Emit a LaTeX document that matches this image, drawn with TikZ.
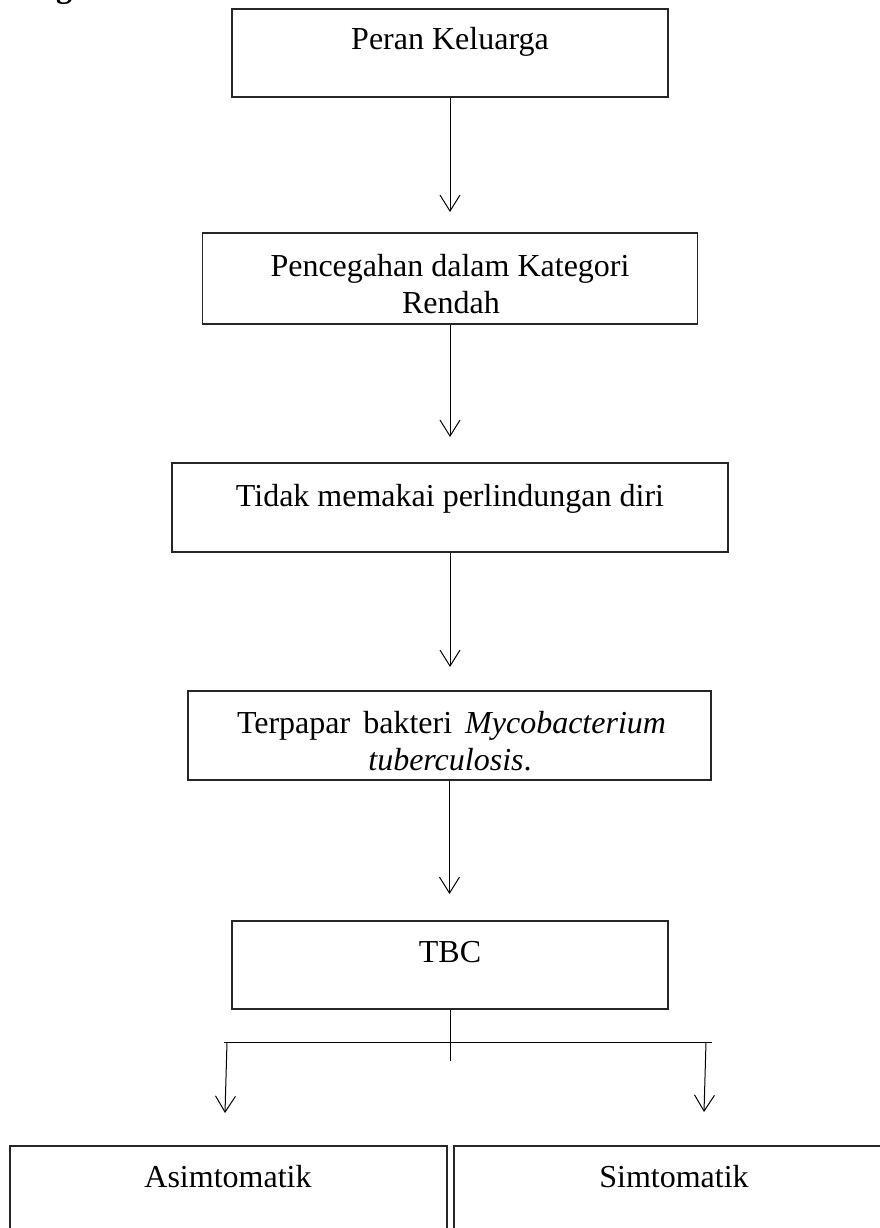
\documentclass[tikz,border=0pt]{standalone}
\usepackage{fontspec}
\setmainfont{Liberation Serif}
\usetikzlibrary{arrows.meta}
\begin{document}
\begin{tikzpicture}[x=1pt,y=-1pt,
  box/.style={draw=black!85, line width=1.4pt, rectangle, inner sep=0pt},
  txt/.style={font=\fontsize{32}{37}\selectfont, inner sep=0pt, anchor=base},
  link/.style={line width=1pt},
  arr/.style={link, -{Straight Barb[length=16pt,width=20pt,line width=1pt]}}]
\useasboundingbox (0,0) rectangle (880,1228);

% cut-off heading fragment
\node[txt, font=\bfseries\fontsize{32}{37}\selectfont] (head) at (64,-2) {g};

% boxes
\node[box, minimum width=436pt, minimum height=88pt] (b1) at (450,53) {};
\node[txt] (t1) at (450,50) {Peran Keluarga};

\node[box, minimum width=495pt, minimum height=91pt] (b2) at (450,278.5) {};
\node[txt] (t2a) at (450,276) {Pencegahan dalam Kategori};
\node[txt] (t2b) at (451,313) {Rendah};

\node[box, minimum width=556pt, minimum height=89pt] (b3) at (450,507.5) {};
\node[txt] (t3) at (450,506) {Tidak memakai perlindungan diri};

\node[box, minimum width=523pt, minimum height=89pt] (b4) at (449.5,735.5) {};
\node[txt] (t4a) at (451.5,733) {\hbox to 429pt{Terpapar\hfill bakteri\hfill \textit{Mycobacterium}}};
\node[txt] (t4b) at (450,770) {\textit{tuberculosis}.};

\node[box, minimum width=436pt, minimum height=88pt] (b5) at (450,965) {};
\node[txt] (t5) at (450,962) {TBC};

\node[box, minimum width=437pt, minimum height=104pt] (b6) at (228.5,1198) {};
\node[txt] (t6) at (228,1187) {Asimtomatik};

\node[box, minimum width=446pt, minimum height=104pt] (b7) at (677,1198) {};
\node[txt] (t7) at (674,1187) {Simtomatik};

% arrow end points
\coordinate (a1) at (450,212);
\coordinate (a2) at (450,437);
\coordinate (a3) at (450,667);
\coordinate (a4) at (450,894);

\draw[arr] (b1.south) -- (b1.south |- a1);
\draw[arr] (b2.south) -- (b2.south |- a2);
\draw[arr] (b3.south) -- (b3.south |- a3);
\draw[arr] (b4.south) -- (b4.south |- a4);

% branching
\coordinate (j) at (449,1061);
\coordinate (hl) at (224,1042);
\coordinate (hr) at (712,1042);
\coordinate (dl) at (227,1042);
\coordinate (al) at (225,1113);
\coordinate (dr) at (706,1042);
\coordinate (ar) at (704,1112);

\draw[link] (b5.south) -- (b5.south |- j);
\draw[link] (hl) -- (hr);
\draw[arr] (dl) -- (al);
\draw[arr] (dr) -- (ar);
\end{tikzpicture}
\end{document}
